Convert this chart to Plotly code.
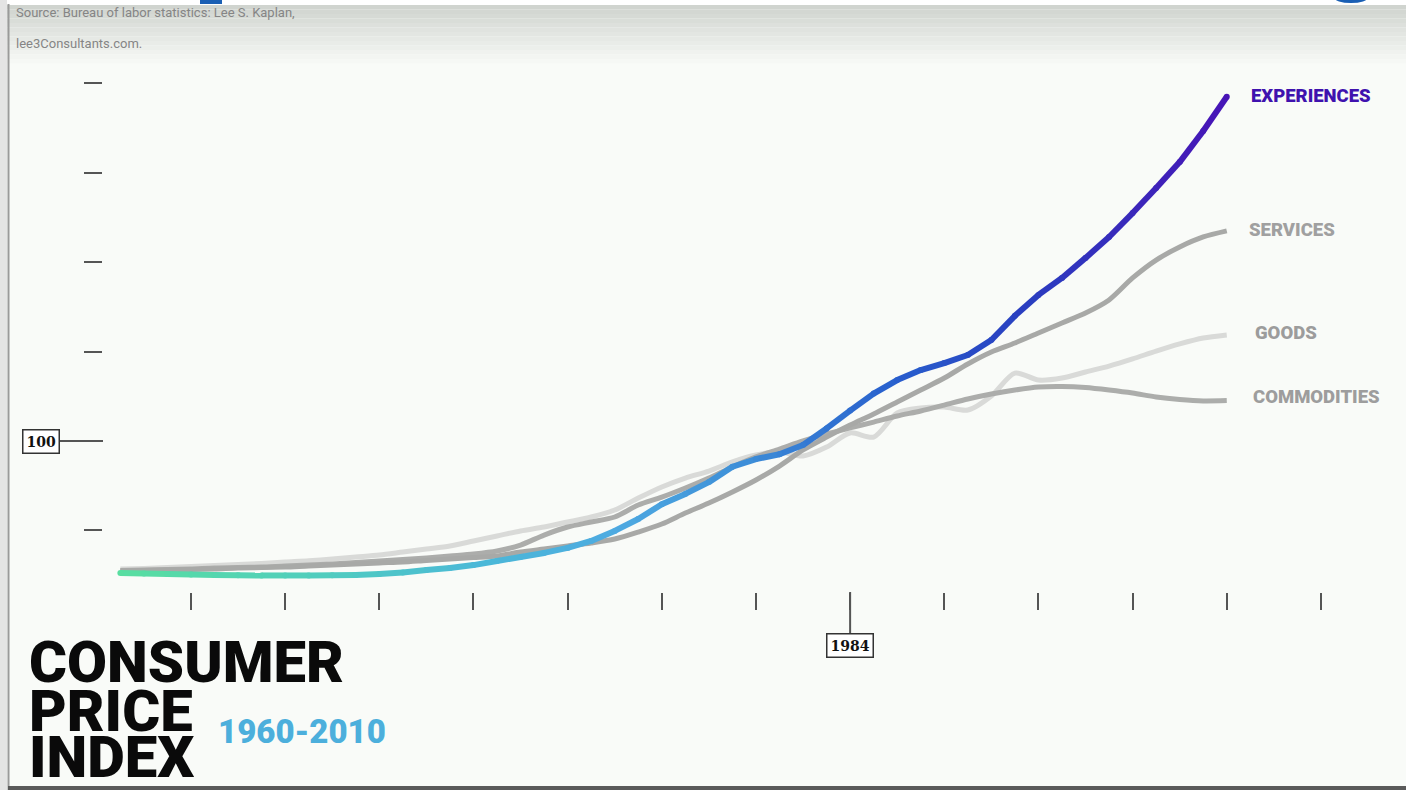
import plotly.graph_objects as go

# ---------------- data ----------------
years = list(range(1953, 2001))

experiences = [26.2, 25.9, 25.6, 25.3, 25.1, 24.9, 24.8, 24.8, 24.8, 24.9, 25.1, 25.6,
               26.5, 27.9, 29.0, 30.6, 32.9, 35.1, 37.4, 40.2, 44.1, 49.7, 56.4, 64.6,
               70.4, 77.0, 85.6, 89.9, 92.6, 97.8, 107.0, 117.0, 126.5, 134.1, 139.7, 143.6,
               148.1, 156.5, 170.0, 181.7, 191.2, 202.4, 214.1, 227.5, 241.5, 256.0, 273.4, 292.5]

services = [27.3, 27.6, 27.9, 28.1, 28.4, 29.0, 29.2, 29.5, 30.1, 30.6, 31.2, 31.8,
            32.3, 33.2, 34.0, 34.8, 35.7, 37.9, 39.6, 41.3, 43.0, 45.2, 49.1, 53.6,
            59.7, 65.3, 71.5, 78.2, 86.0, 95.0, 102.2, 108.9, 115.1, 121.8, 128.5, 135.2,
            143.1, 149.8, 154.8, 160.4, 166.0, 171.6, 178.9, 191.2, 201.2, 208.5, 214.1, 217.5]

goods = [28.4, 28.7, 29.2, 29.8, 30.4, 30.9, 31.5, 32.3, 33.0, 34.0, 35.1, 36.2,
         37.9, 39.6, 41.3, 44.1, 46.9, 49.7, 51.9, 54.7, 57.5, 61.4, 68.1, 74.3,
         79.3, 83.2, 88.3, 92.2, 93.8, 91.6, 96.6, 104.5, 102.2, 115.7, 118.5, 119.0,
         117.3, 125.2, 138.0, 134.1, 135.2, 138.6, 141.9, 145.9, 150.3, 154.3, 157.6, 159.3]

commodities = [27.6, 27.9, 28.1, 28.4, 29.0, 29.2, 29.5, 30.1, 30.6, 31.2, 32.0, 32.9,
               33.7, 34.6, 35.7, 36.8, 38.5, 41.8, 47.4, 51.9, 54.7, 57.5, 64.2, 68.6,
               73.7, 79.3, 85.5, 91.1, 95.5, 100.0, 103.9, 107.3, 110.6, 114.0, 116.8, 120.1,
               123.5, 126.3, 128.5, 130.2, 130.5, 129.9, 128.5, 126.8, 124.6, 123.2, 122.4, 122.6]

x_ticks = list(range(1956, 2005, 4))
y_ticks = [50, 100, 150, 200, 250, 300]
highlight_year = 1984
highlight_value = 100

series_labels = ["EXPERIENCES", "SERVICES", "GOODS", "COMMODITIES"]
title_lines = ["CONSUMER", "PRICE", "INDEX"]
period_label = "1960-2010"
source_lines = ["Source: Bureau of labor statistics: Lee S. Kaplan,", "lee3Consultants.com."]

# ---------------- layout geometry ----------------
W, H = 1406, 790
L, R, T, B = 103, 1340, 60, 592          # plot area in pixels
px_per_year = 23.54
x0 = 1956 - (191 - L) / px_per_year
x1 = 1956 + (R - 191) / px_per_year
px_per_unit = 89.4 / 50
y0 = 100 - (B - 441) / px_per_unit
y1 = 100 + (441 - T) / px_per_unit


def fx(p):
    return (p - L) / (R - L)


def fy(p):
    return (B - p) / (B - T)


fig = go.Figure()

GRAY_DARK = "#a8a9a7"
GRAY_MID = "#acadab"
GRAY_LIGHT = "#d9dad8"

fig.add_trace(go.Scatter(x=years, y=goods, mode="lines", line=dict(color=GRAY_LIGHT, width=5, shape="spline", smoothing=0.8),
                         hoverinfo="skip", showlegend=False))
fig.add_trace(go.Scatter(x=years, y=commodities, mode="lines", line=dict(color=GRAY_MID, width=5, shape="spline", smoothing=0.8),
                         hoverinfo="skip", showlegend=False))
fig.add_trace(go.Scatter(x=years, y=services, mode="lines", line=dict(color=GRAY_DARK, width=5, shape="spline", smoothing=0.8),
                         hoverinfo="skip", showlegend=False))

# gradient line for experiences
stops = [(0.00, (88, 222, 160)), (0.18, (80, 205, 190)), (0.32, (75, 185, 215)),
         (0.45, (78, 170, 225)), (0.57, (60, 140, 215)), (0.70, (40, 95, 205)),
         (0.82, (42, 62, 192)), (1.00, (72, 20, 182))]


def grad(t):
    for (t0, c0), (t1, c1) in zip(stops[:-1], stops[1:]):
        if t <= t1:
            f = (t - t0) / (t1 - t0) if t1 > t0 else 0
            return "rgb(%d,%d,%d)" % tuple(round(a + (b - a) * f) for a, b in zip(c0, c1))
    return "rgb(%d,%d,%d)" % stops[-1][1]


n = len(years)
pt_colors = [grad(i / (n - 1)) for i in range(n)]
for i in range(n - 1):
    fig.add_trace(go.Scatter(x=years[i:i + 2], y=experiences[i:i + 2], mode="lines",
                             line=dict(color=grad((i + 0.5) / (n - 1)), width=6),
                             hoverinfo="skip", showlegend=False))
fig.add_trace(go.Scatter(x=years, y=experiences, mode="markers",
                         marker=dict(color=pt_colors, size=6, line=dict(width=0)),
                         hoverinfo="skip", showlegend=False))

# ---------------- shapes (decor) ----------------
shapes = []
bg = (249, 251, 248)
top = (208, 212, 207)
nband = 14
for k in range(nband):
    t = k / (nband - 1)
    c = tuple(round(a + (b - a) * t) for a, b in zip(top, bg))
    shapes.append(dict(type="rect", xref="paper", yref="paper", layer="below",
                       x0=fx(0), x1=fx(W), y0=fy(5 + k * 4.5), y1=fy(5 + (k + 1) * 4.5),
                       fillcolor="rgb(%d,%d,%d)" % c, line=dict(width=0)))
shapes.append(dict(type="rect", xref="paper", yref="paper", layer="below",
                   x0=fx(0), x1=fx(W), y0=fy(0), y1=fy(5), fillcolor="#ffffff", line=dict(width=0)))
shapes.append(dict(type="rect", xref="paper", yref="paper", layer="below",
                   x0=fx(200), x1=fx(222), y0=fy(0), y1=fy(4), fillcolor="#1a5fb4", line=dict(width=0)))
shapes.append(dict(type="circle", xref="paper", yref="paper", layer="above",
                   x0=fx(1334), x1=fx(1368), y0=fy(-8), y1=fy(3), fillcolor="#1a5fb4", line=dict(width=0)))
shapes.append(dict(type="rect", xref="paper", yref="paper", layer="above",
                   x0=fx(0), x1=fx(7), y0=fy(0), y1=fy(H), fillcolor="#e4e4e4", line=dict(width=0)))
shapes.append(dict(type="line", xref="paper", yref="paper", layer="above",
                   x0=fx(8.5), x1=fx(8.5), y0=fy(4), y1=fy(H), line=dict(color="#9a9a9a", width=2)))
shapes.append(dict(type="rect", xref="paper", yref="paper", layer="above",
                   x0=fx(8), x1=fx(W), y0=fy(786), y1=fy(H), fillcolor="#5a5a5a", line=dict(width=0)))
# long tick for 100
shapes.append(dict(type="line", xref="paper", yref="y", x0=fx(60), x1=fx(L), y0=highlight_value, y1=highlight_value,
                   line=dict(color="#555555", width=2)))
# long tick for 1984
shapes.append(dict(type="line", xref="x", yref="paper", x0=highlight_year, x1=highlight_year, y0=fy(B), y1=fy(634),
                   line=dict(color="#555555", width=2)))
fig.update_layout(shapes=shapes)

# ---------------- annotations ----------------
ann = []
label_font = "Roboto, Liberation Sans, sans-serif"
ends = [experiences[-1], services[-1], goods[-1], commodities[-1]]
label_colors = ["#3f12ae", "#a0a0a0", "#9c9c9c", "#9d9d9d"]
label_shift_x = [22, 20, 26, 24]
label_shift_y = [1, 1, 2, 4]
for lab, v, c, sx, sy in zip(series_labels, ends, label_colors, label_shift_x, label_shift_y):
    ann.append(dict(text=lab, x=years[-1], y=v, xref="x", yref="y", xanchor="left", yanchor="middle",
                    xshift=sx, yshift=sy, showarrow=False,
                    font=dict(family=label_font, size=18.5, color=c, weight=900)))

ann.append(dict(text="<b>100</b>", x=fx(41), y=highlight_value, xref="paper", yref="y", xanchor="center", yanchor="middle",
                showarrow=False, font=dict(family="DejaVu Serif", size=14, color="#111111"),
                bordercolor="#333333", borderwidth=1.5, borderpad=3, bgcolor="#ffffff"))
ann.append(dict(text="<b>%d</b>" % highlight_year, x=highlight_year, y=fy(645), xref="x", yref="paper", xanchor="center",
                yanchor="middle", showarrow=False, font=dict(family="DejaVu Serif", size=14, color="#111111"),
                bordercolor="#333333", borderwidth=1.5, borderpad=3, bgcolor="#ffffff"))

title_font = "Roboto, sans-serif"
for line, cy in zip(title_lines, [662, 711, 757]):
    ann.append(dict(text=line, x=fx(27), y=fy(cy), xref="paper", yref="paper", xanchor="left",
                    yanchor="middle", valign="middle", height=46, showarrow=False,
                    font=dict(family=title_font, size=58, color="#0a0a0a", weight=900)))
ann.append(dict(text=period_label, x=fx(216), y=fy(731), xref="paper", yref="paper", xanchor="left",
                yanchor="middle", showarrow=False,
                font=dict(family="Roboto, sans-serif", size=33, color="#4cafdc", weight=900)))

for line, cy in zip(source_lines, [13, 43]):
    ann.append(dict(text=line, x=fx(14), y=fy(cy), xref="paper", yref="paper", xanchor="left", yanchor="middle",
                    showarrow=False, font=dict(family="Roboto, sans-serif", size=13, color="#858585")))

fig.update_layout(annotations=ann)

fig.update_layout(
    width=W, height=H,
    margin=dict(l=L, r=W - R, t=T, b=H - B, pad=0),
    paper_bgcolor="rgb(249,251,248)",
    plot_bgcolor="rgba(0,0,0,0)",
    showlegend=False,
    xaxis=dict(range=[x0, x1], tickvals=x_ticks, ticks="outside", ticklen=17, tickwidth=2, tickcolor="#555555",
               showticklabels=False, showgrid=False, zeroline=False, showline=False, fixedrange=True),
    yaxis=dict(range=[y0, y1], tickvals=y_ticks, ticks="outside", ticklen=18, tickwidth=2, tickcolor="#555555",
               showticklabels=False, showgrid=False, zeroline=False, showline=False, fixedrange=True),
)

fig.write_html("out.html", config={"displayModeBar": False})
